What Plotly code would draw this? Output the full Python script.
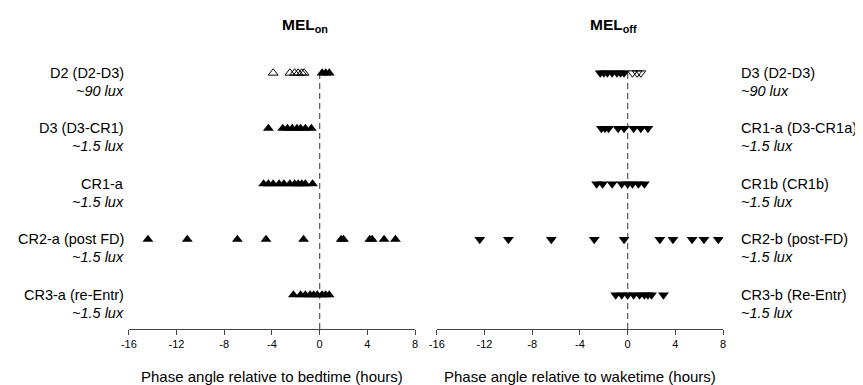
import plotly.graph_objects as go

# ---- data ----
left_rows = ["D2 (D2-D3)", "D3 (D3-CR1)", "CR1-a", "CR2-a (post FD)", "CR3-a (re-Entr)"]
right_rows = ["D3 (D2-D3)", "CR1-a (D3-CR1a)", "CR1b (CR1b)", "CR2-b (post-FD)", "CR3-b (Re-Entr)"]
lux_labels = ["~90 lux", "~1.5 lux", "~1.5 lux", "~1.5 lux", "~1.5 lux"]
row_pos = [5, 4, 3, 2, 1]

# MEL onset relative to bedtime (hours); filled and open markers
mel_on_filled = [
    [0.2, 0.5, 0.8],
    [-4.3, -3.1, -2.7, -2.3, -1.9, -1.6, -1.2, -0.7],
    [-4.7, -4.3, -3.9, -3.4, -3.0, -2.5, -2.1, -1.8, -1.5, -1.2, -0.6],
    [-14.4, -11.1, -6.9, -4.5, -1.35, 1.8, 2.0, 4.2, 4.4, 5.4, 6.35],
    [-2.2, -1.6, -1.2, -0.8, -0.5, -0.2, 0.2, 0.5, 0.8],
]
mel_on_open = [
    [-3.9, -2.5, -2.1, -1.8, -1.5, -1.3],
    [], [], [], [],
]
# MEL offset relative to waketime (hours)
mel_off_filled = [
    [-2.3, -2.0, -1.7, -1.3, -0.9, -0.6, -0.3],
    [-2.2, -1.9, -1.6, -0.8, -0.3, 0.5, 1.1, 1.7],
    [-2.6, -2.1, -1.3, -0.5, 0.0, 0.4, 0.9, 1.4],
    [-12.4, -10.0, -6.4, -2.8, -0.3, 2.7, 3.8, 5.4, 6.4, 7.6],
    [-1.0, -0.5, 0.0, 0.5, 1.0, 1.4, 1.7, 2.0, 3.0],
]
mel_off_open = [
    [0.4, 0.8, 1.1],
    [], [], [], [],
]
ref_x = 0
x_ticks = [-16, -12, -8, -4, 0, 4, 8]

FONT = "Liberation Sans, Arial, sans-serif"
OFF = 8  # page body margin in the browser
W, H = 863 - OFF, 385 - OFF


def px(x):
    return (x - OFF) / W


def py(y):
    return 1 - (y - OFF) / H


fig = go.Figure()


def add_rows(filled, opened, sym, xa, ya):
    xs, ys, xo, yo = [], [], [], []
    for r, vals in zip(row_pos, filled):
        xs += vals
        ys += [r] * len(vals)
    for r, vals in zip(row_pos, opened):
        xo += vals
        yo += [r] * len(vals)
    fig.add_trace(go.Scatter(x=[ref_x, ref_x], y=[0.387, row_pos[0]], mode="lines",
                             line=dict(color="#555", width=1.2, dash="6px,4px"),
                             xaxis=xa, yaxis=ya, showlegend=False, hoverinfo="skip"))
    fig.add_trace(go.Scatter(x=xo, y=yo, mode="markers", xaxis=xa, yaxis=ya,
                             marker=dict(symbol=sym + "-open", size=8.5, color="black",
                                         line=dict(width=1, color="black")),
                             showlegend=False))
    fig.add_trace(go.Scatter(x=xs, y=ys, mode="markers", xaxis=xa, yaxis=ya,
                             marker=dict(symbol=sym, size=9.5, color="black",
                                         line=dict(width=0)),
                             showlegend=False))


add_rows(mel_on_filled, mel_on_open, "triangle-up", "x", "y")
add_rows(mel_off_filled, mel_off_open, "triangle-down", "x2", "y2")

ydom = [py(329), py(39.7)]
xcommon = dict(range=[-16, 8], tickvals=x_ticks, ticktext=[str(t) for t in x_ticks],
               showline=True, linecolor="#444", linewidth=1, ticks="outside",
               ticklen=5, tickcolor="#444", showgrid=False, zeroline=False,
               tickfont=dict(family=FONT, size=11, color="black"))
ycommon = dict(range=[0.387, 5.6], visible=False, showgrid=False, zeroline=False)

fig.update_layout(
    width=W, height=H, margin=dict(l=0, r=0, t=0, b=0),
    paper_bgcolor="white", plot_bgcolor="white",
    xaxis=dict(domain=[px(122.3), px(412.3)], anchor="y", **xcommon),
    xaxis2=dict(domain=[px(434.3), px(724.3)], anchor="y2", **xcommon),
    yaxis=dict(domain=ydom, anchor="x", **ycommon),
    yaxis2=dict(domain=ydom, anchor="x2", **ycommon),
    font=dict(family=FONT, color="black"),
)

LAB = 14.5
ann = []
for r, lab, lux in zip(row_pos, left_rows, lux_labels):
    ann.append(dict(x=px(119), y=r, xref="paper", yref="y", text=lab, showarrow=False,
                    xanchor="right", yanchor="middle", font=dict(size=LAB)))
    ann.append(dict(x=px(119), y=r, xref="paper", yref="y", text="<i>" + lux + "</i>",
                    showarrow=False, xanchor="right", yanchor="middle", yshift=-18,
                    font=dict(size=LAB)))
for r, lab, lux in zip(row_pos, right_rows, lux_labels):
    ann.append(dict(x=px(740), y=r, xref="paper", yref="y2", text=lab, showarrow=False,
                    xanchor="left", yanchor="middle", font=dict(size=LAB)))
    ann.append(dict(x=px(740), y=r, xref="paper", yref="y2", text="<i>" + lux + "</i>",
                    showarrow=False, xanchor="left", yanchor="middle", yshift=-18,
                    font=dict(size=LAB)))

ann.append(dict(x=px(301), y=py(25), xref="paper", yref="paper", xanchor="center",
                yanchor="middle", text="<b>MEL<sub>on</sub></b>", showarrow=False,
                font=dict(size=15.5)))
ann.append(dict(x=px(613), y=py(25), xref="paper", yref="paper", xanchor="center",
                yanchor="middle", text="<b>MEL<sub>off</sub></b>", showarrow=False,
                font=dict(size=15.5)))
ann.append(dict(x=px(267.3), y=py(376), xref="paper", yref="paper", xanchor="center",
                yanchor="middle", text="Phase angle relative to bedtime (hours)",
                showarrow=False, font=dict(size=15)))
ann.append(dict(x=px(579.3), y=py(376), xref="paper", yref="paper", xanchor="center",
                yanchor="middle", text="Phase angle relative to waketime (hours)",
                showarrow=False, font=dict(size=15)))
fig.update_layout(annotations=ann)

fig.write_html("out.html")
